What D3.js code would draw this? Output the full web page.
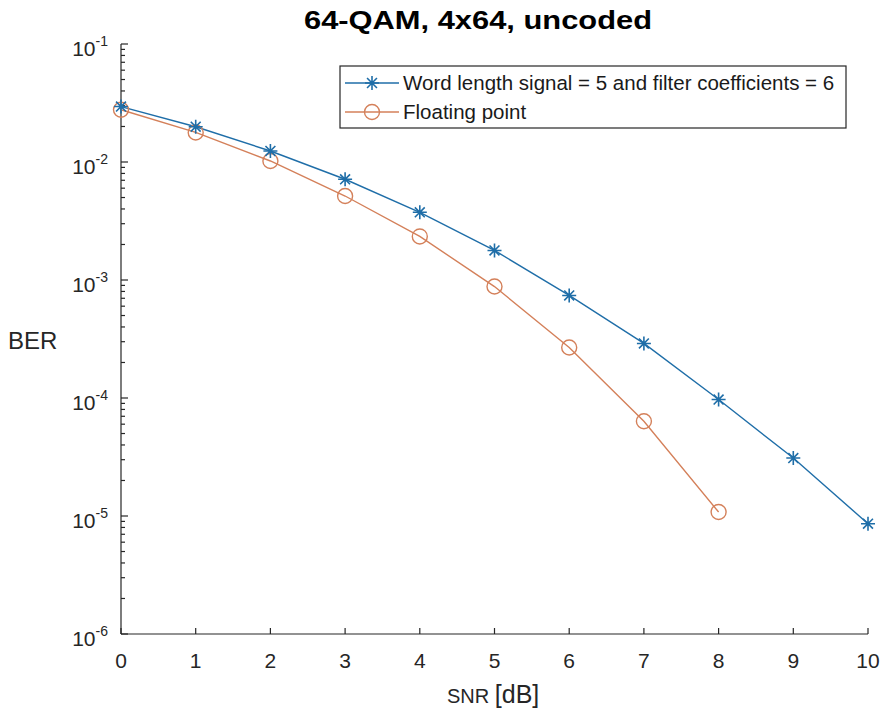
<!DOCTYPE html>
<html>
<head>
<meta charset="utf-8">
<script src="https://cdn.jsdelivr.net/npm/d3@7/dist/d3.min.js"></script>
<style>
  html, body { margin: 0; padding: 0; background: #fff; }
  svg { display: block; font-family: "Liberation Sans", Arial, Helvetica, sans-serif; }
</style>
</head>
<body>
<svg id="chart" width="888" height="711"></svg>
<script>
// SNR points (dB)
const snrQuantized = [0, 1, 2, 3, 4, 5, 6, 7, 8, 9, 10];
const berQuantized = [0.0295, 0.0199, 0.0124, 0.00714, 0.00375, 0.00178, 7.4e-4, 2.9e-4, 9.7e-5, 3.1e-5, 8.6e-6];
const snrFloat = [0, 1, 2, 3, 4, 5, 6, 7, 8];
const berFloat = [0.0277, 0.0178, 0.0102, 0.00515, 0.00234, 8.8e-4, 2.68e-4, 6.35e-5, 1.08e-5];

const xTicks = [0, 1, 2, 3, 4, 5, 6, 7, 8, 9, 10];
const yExponents = [-1, -2, -3, -4, -5, -6];

const seriesNames = ["Word length signal = 5 and filter coefficients = 6", "Floating point"];
const titleText = "64-QAM, 4x64, uncoded";

const blue = "#1f6ea8";
const orange = "#d4805a";
const axisColor = "#262626";

const svg = d3.select("#chart");
const plotL = 121, plotR = 868, plotT = 44, plotB = 634;

const x = d3.scaleLinear().domain([0, 10]).range([plotL, plotR]);
const y = d3.scaleLog().domain([1e-6, 1e-1]).range([plotB, plotT]);

// Title
svg.append("text")
  .attr("x", 478).attr("y", 29)
  .attr("text-anchor", "middle")
  .attr("font-size", 26).attr("font-weight", "bold")
  .attr("textLength", 348).attr("lengthAdjust", "spacingAndGlyphs")
  .attr("fill", "#000")
  .text(titleText);

// Axes lines
const axes = svg.append("g").attr("stroke", axisColor).attr("stroke-width", 1.2).attr("fill", "none");
axes.append("line").attr("x1", plotL).attr("x2", plotL).attr("y1", plotT).attr("y2", plotB);
axes.append("line").attr("x1", plotL).attr("x2", plotR).attr("y1", plotB).attr("y2", plotB);

// X ticks (inward)
xTicks.forEach(t => {
  axes.append("line").attr("x1", x(t)).attr("x2", x(t)).attr("y1", plotB).attr("y2", plotB - 6);
});
svg.append("g").selectAll("text").data(xTicks).join("text")
  .attr("x", d => x(d)).attr("y", 668)
  .attr("text-anchor", "middle").attr("font-size", 21).attr("fill", axisColor)
  .text(d => d);

// Y ticks, major and minor (inward)
yExponents.forEach(e => {
  const v = Math.pow(10, e);
  axes.append("line").attr("x1", plotL).attr("x2", plotL + 7).attr("y1", y(v)).attr("y2", y(v));
  if (e < -1) {
    for (let m = 2; m <= 9; m++) {
      const mv = m * v;
      axes.append("line").attr("x1", plotL).attr("x2", plotL + 4).attr("y1", y(mv)).attr("y2", y(mv));
    }
  }
});
const yLab = svg.append("g").selectAll("text").data(yExponents).join("text")
  .attr("x", 108).attr("y", d => y(Math.pow(10, d)) + 12)
  .attr("text-anchor", "end").attr("fill", axisColor);
yLab.append("tspan").attr("font-size", 21).text("10");
yLab.append("tspan").attr("font-size", 14).attr("dy", -10).text(d => "-" + Math.abs(d));

// Axis labels
svg.append("text").attr("x", 8).attr("y", 349).attr("font-size", 24).attr("fill", axisColor).text("BER");
const xl = svg.append("text").attr("x", 447).attr("y", 703).attr("fill", axisColor);
xl.append("tspan").attr("font-size", 20).text("SNR ");
xl.append("tspan").attr("font-size", 25).text("[dB]");

// Lines
const line = d3.line().x(d => x(d[0])).y(d => y(d[1]));
const qData = snrQuantized.map((s, i) => [s, berQuantized[i]]);
const fData = snrFloat.map((s, i) => [s, berFloat[i]]);

svg.append("path").datum(fData).attr("d", line)
  .attr("fill", "none").attr("stroke", orange).attr("stroke-width", 1.4);
svg.append("path").datum(qData).attr("d", line)
  .attr("fill", "none").attr("stroke", blue).attr("stroke-width", 1.4);

// Markers
function starPath(cx, cy, r) {
  const d = r * Math.SQRT1_2;
  return `M${cx - r},${cy}L${cx + r},${cy}M${cx},${cy - r}L${cx},${cy + r}` +
         `M${cx - d},${cy - d}L${cx + d},${cy + d}M${cx - d},${cy + d}L${cx + d},${cy - d}`;
}
svg.append("g").selectAll("circle").data(fData).join("circle")
  .attr("cx", d => x(d[0])).attr("cy", d => y(d[1])).attr("r", 7.5)
  .attr("fill", "none").attr("stroke", orange).attr("stroke-width", 1.4);
svg.append("g").selectAll("path").data(qData).join("path")
  .attr("d", d => starPath(x(d[0]), y(d[1]), 7))
  .attr("fill", "none").attr("stroke", blue).attr("stroke-width", 1.6);

// Legend
const lg = svg.append("g");
lg.append("rect").attr("x", 340).attr("y", 66).attr("width", 506).attr("height", 62)
  .attr("fill", "#fff").attr("stroke", axisColor).attr("stroke-width", 1.2);
const rows = [
  { name: seriesNames[0], color: blue, marker: "star", cy: 83 },
  { name: seriesNames[1], color: orange, marker: "circle", cy: 112 }
];
rows.forEach(r => {
  lg.append("line").attr("x1", 345).attr("x2", 399).attr("y1", r.cy).attr("y2", r.cy)
    .attr("stroke", r.color).attr("stroke-width", 1.4);
  if (r.marker === "star") {
    lg.append("path").attr("d", starPath(372, r.cy, 7)).attr("fill", "none")
      .attr("stroke", r.color).attr("stroke-width", 1.6);
  } else {
    lg.append("circle").attr("cx", 372).attr("cy", r.cy).attr("r", 7.5).attr("fill", "none")
      .attr("stroke", r.color).attr("stroke-width", 1.4);
  }
  lg.append("text").attr("x", 403).attr("y", r.cy + 7).attr("font-size", 20.5)
    .attr("fill", "#1a1a1a").text(r.name);
});
</script>
</body>
</html>
